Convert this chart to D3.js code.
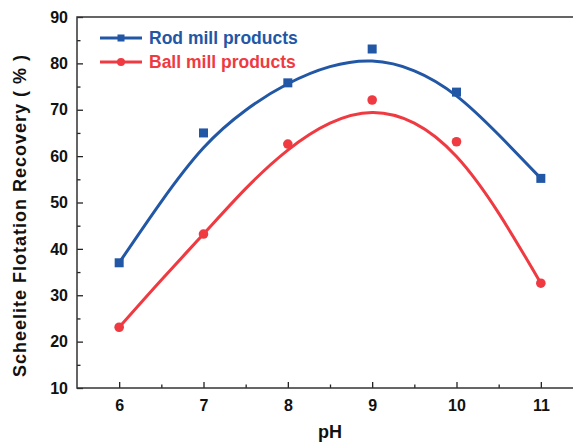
<!DOCTYPE html>
<html>
<head>
<meta charset="utf-8">
<script src="https://cdn.jsdelivr.net/npm/d3@7"></script>
<style>
  body { margin: 0; background: #fff; }
  svg { display: block; font-family: "Liberation Sans", Arial, sans-serif; font-weight: bold; }
</style>
</head>
<body>
<svg id="chart" width="573" height="442"></svg>
<script>
// measured points
const phValues = [6, 7, 8, 9, 10, 11];
const rodRecovery = [37.0, 65.0, 75.8, 83.1, 73.8, 55.2];
const ballRecovery = [23.1, 43.2, 62.6, 72.1, 63.1, 32.6];

// fitted curves, every half pH unit
const fitPH = [6, 6.5, 7, 7.5, 8, 8.5, 9, 9.5, 10, 10.5, 11];
const rodFit = [37.0, 50.2, 61.8, 69.9, 75.6, 79.3, 80.5, 78.4, 73.0, 64.6, 55.2];
const ballFit = [23.1, 33.3, 43.2, 53.0, 61.3, 67.1, 69.4, 67.1, 59.9, 47.7, 32.6];

const xTicks = [6, 7, 8, 9, 10, 11];
const yTicks = [10, 20, 30, 40, 50, 60, 70, 80, 90];

const blue = "#2257a6";
const red = "#ef3a42";

const margin = {top: 17, right: -10, bottom: 54, left: 77};
const W = 573, H = 442;
const width = W - margin.left - margin.right;
const height = H - margin.top - margin.bottom;

const svg = d3.select("#chart");
const g = svg.append("g").attr("transform", `translate(${margin.left},${margin.top})`);

const x = d3.scaleLinear().domain([5.5, 11.5]).range([0, width]);
const y = d3.scaleLinear().domain([10, 90]).range([height, 0]);

// minor ticks
g.append("g")
    .attr("transform", `translate(0,${height})`)
    .call(d3.axisBottom(x).tickValues(d3.range(6.5, 11.5, 1)).tickSize(-3.5).tickFormat(""))
    .call(a => a.select(".domain").remove());
g.append("g")
    .call(d3.axisLeft(y).tickValues(d3.range(15, 90, 10)).tickSize(-3.5).tickFormat(""))
    .call(a => a.select(".domain").remove());

// major ticks
const xAxis = g.append("g")
    .attr("transform", `translate(0,${height})`)
    .call(d3.axisBottom(x).tickValues(xTicks).tickSize(-6).tickPadding(12).tickFormat(d3.format("d")));
const yAxis = g.append("g")
    .call(d3.axisLeft(y).tickValues(yTicks).tickSize(-6).tickPadding(9));

[xAxis, yAxis].forEach(a => {
    a.selectAll(".domain").remove();
    a.selectAll("text").attr("font-size", 16).attr("font-weight", "bold").attr("fill", "#111")
        .attr("font-family", "'Liberation Sans', Arial, sans-serif");
});
g.selectAll("g.tick line").attr("stroke", "#222").attr("stroke-width", 1.3);

// frame
g.append("rect")
    .attr("width", width).attr("height", height)
    .attr("fill", "none").attr("stroke", "#333").attr("stroke-width", 1.5);

// fitted lines
const line = d3.line()
    .x(d => x(d[0]))
    .y(d => y(d[1]))
    .curve(d3.curveNatural);

g.append("path")
    .datum(d3.zip(fitPH, rodFit))
    .attr("d", line)
    .attr("fill", "none").attr("stroke", blue).attr("stroke-width", 3);
g.append("path")
    .datum(d3.zip(fitPH, ballFit))
    .attr("d", line)
    .attr("fill", "none").attr("stroke", red).attr("stroke-width", 3);

// markers
g.selectAll(".rod-pt")
    .data(d3.zip(phValues, rodRecovery))
    .enter().append("rect")
    .attr("class", "rod-pt")
    .attr("x", d => x(d[0]) - 4.5).attr("y", d => y(d[1]) - 4.5)
    .attr("width", 9).attr("height", 9)
    .attr("fill", blue);
g.selectAll(".ball-pt")
    .data(d3.zip(phValues, ballRecovery))
    .enter().append("circle")
    .attr("class", "ball-pt")
    .attr("cx", d => x(d[0])).attr("cy", d => y(d[1]))
    .attr("r", 4.8)
    .attr("fill", red);

// legend
const legend = g.append("g").attr("transform", "translate(23,21)");
const legendItems = [
    {name: "Rod mill products", color: blue, shape: "square"},
    {name: "Ball mill products", color: red, shape: "circle"}
];
legendItems.forEach((it, i) => {
    const row = legend.append("g").attr("transform", `translate(0,${i * 24})`);
    row.append("line").attr("x1", 0).attr("x2", 42).attr("y1", 0).attr("y2", 0)
        .attr("stroke", it.color).attr("stroke-width", 3);
    if (it.shape === "square") {
        row.append("rect").attr("x", 21 - 3.5).attr("y", -3.5).attr("width", 7).attr("height", 7).attr("fill", it.color);
    } else {
        row.append("circle").attr("cx", 21).attr("cy", 0).attr("r", 4).attr("fill", it.color);
    }
    row.append("text").attr("x", 49).attr("y", 0).attr("dy", "0.36em")
        .attr("font-size", 17.5).attr("fill", it.color).text(it.name);
});

// axis titles
svg.append("text")
    .attr("x", margin.left + width / 2).attr("y", 438)
    .attr("text-anchor", "middle").attr("font-size", 18).attr("fill", "#111")
    .text("pH");
svg.append("text")
    .attr("transform", `translate(26,${margin.top + height / 2 + 13}) rotate(-90)`)
    .attr("text-anchor", "middle").attr("font-size", 18).attr("fill", "#111")
    .attr("letter-spacing", 1)
    .text("Scheelite Flotation Recovery ( % )");
</script>
</body>
</html>
